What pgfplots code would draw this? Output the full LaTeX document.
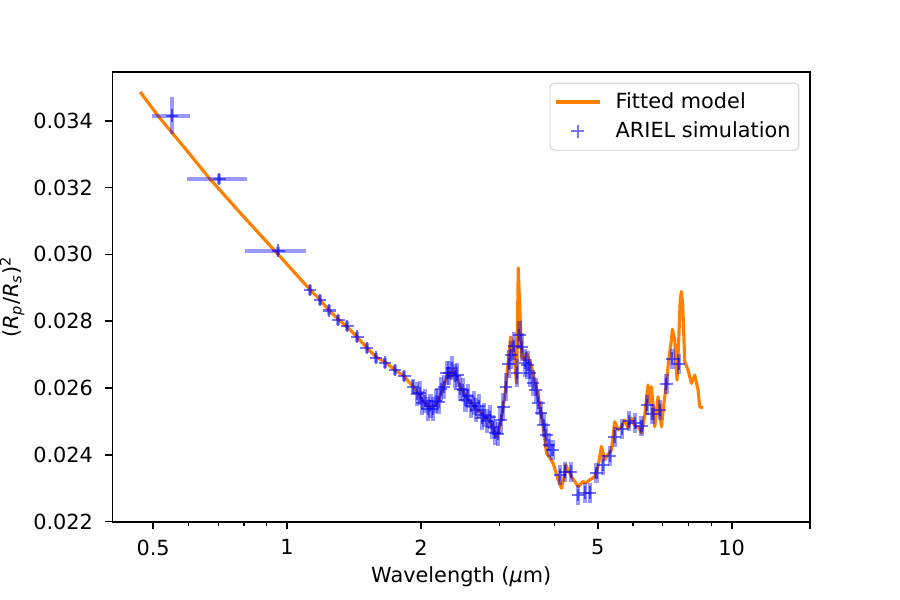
\documentclass[border=0pt]{standalone}
\usepackage{fontspec}
\setmainfont{DejaVu Sans}
\usepackage{pgfplots}
\pgfplotsset{compat=1.18}
\usepackage{pgfplotstable}
\definecolor{modelorange}{RGB}{255,127,0}

\pgfplotstableread{
x y
0.4674 0.03486
0.5138 0.03413
0.5899 0.03317
0.6714 0.03225
0.7923 0.03118
0.9398 0.03010
1.026 0.02954
1.1265 0.02894
1.1862 0.02864
1.2428 0.02832
1.302 0.02807
1.3641 0.02783
1.4365 0.02753
1.5127 0.02720
1.5849 0.02693
1.6607 0.02678
1.7489 0.02654
1.8325 0.02636
1.8708 0.02621
1.9193 0.02606
1.9596 0.02588
2.0006 0.02570
2.0425 0.02555
2.0853 0.02543
2.129 0.02543
2.1736 0.02555
2.2191 0.02582
2.2656 0.02618
2.3121 0.02648
2.336 0.02630
2.3605 0.02657
2.4099 0.02633
2.4604 0.02600
2.5119 0.02582
2.5645 0.02561
2.6182 0.02552
2.673 0.02534
2.729 0.02528
2.7861 0.02513
2.8445 0.02504
2.904 0.02481
2.9603 0.02454
2.9957 0.02475
3.0424 0.02516
3.0902 0.02579
3.1385 0.02669
3.183 0.02753
3.2214 0.02729
3.2836 0.02615
3.2973 0.02774
3.311 0.02959
3.3317 0.02864
3.3696 0.02694
3.4101 0.02684
3.4578 0.02704
3.5172 0.02678
3.5722 0.02648
3.6278 0.02609
3.6847 0.02564
3.7411 0.02511
3.78 0.02469
3.8334 0.02405
3.8994 0.02391
3.9665 0.02375
4.0228 0.02349
4.071 0.02325
4.143 0.02300
4.193 0.02331
4.2365 0.02370
4.2807 0.02355
4.3251 0.02345
4.3813 0.02331
4.4383 0.02320
4.515 0.02305
4.5781 0.02313
4.6325 0.02320
4.6975 0.02316
4.7959 0.02325
4.8708 0.02331
4.9216 0.02335
5.0052 0.02365
5.0941 0.02425
5.1819 0.02385
5.2627 0.02400
5.3653 0.02415
5.4573 0.02499
5.5513 0.02475
5.6494 0.02484
5.7479 0.02504
5.8479 0.02480
5.9512 0.02510
6.0229 0.02493
6.1068 0.02484
6.1802 0.02481
6.2676 0.02465
6.3753 0.02519
6.4853 0.02609
6.5424 0.02555
6.6014 0.02604
6.7143 0.02484
6.8299 0.02574
6.9502 0.02484
7.034 0.02549
7.1335 0.02614
7.2178 0.02684
7.3197 0.02744
7.3571 0.02776
7.4456 0.02744
7.5352 0.02624
7.6014 0.02744
7.6611 0.02864
7.709 0.02889
7.7607 0.02849
7.8416 0.02679
7.9765 0.02654
8.1177 0.02614
8.2589 0.02639
8.401 0.02594
8.4747 0.02544
8.6205 0.02540
}\model

\pgfplotstableread{
x y ex ey
0.5515 0.03415 0.054 0.00055
0.7045 0.03225 0.108 0.00015
0.956 0.03011 0.150 0.00012
}\tabA

\pgfplotstableread{
x y ey
1.1265 0.02894 0.00015
1.1862 0.02864 0.00015
1.2447 0.02832 0.00015
1.3041 0.02804 0.00015
1.3663 0.02786 0.00015
1.4388 0.02754 0.00015
1.5103 0.02719 0.00015
1.5849 0.02691 0.00015
1.6607 0.02676 0.00015
1.7489 0.02654 0.00015
1.8354 0.02636 0.00015
1.9200 0.02604 0.00022
1.9594 0.025823 0.00036
1.9870 0.025838 0.00036
2.0149 0.025554 0.00036
2.0433 0.025614 0.00036
2.0720 0.025374 0.00036
2.1012 0.025464 0.00036
2.1307 0.025374 0.00036
2.1607 0.025614 0.00036
2.1911 0.025584 0.00036
2.2219 0.025973 0.00036
2.2532 0.026033 0.00036
2.2849 0.026452 0.00036
2.3170 0.026452 0.00036
2.3496 0.026602 0.00036
2.3827 0.026362 0.00036
2.4162 0.026392 0.00036
2.4502 0.025973 0.00036
2.4847 0.025943 0.00036
2.5196 0.025644 0.00036
2.5551 0.025763 0.00036
2.5910 0.025464 0.00036
2.6275 0.025554 0.00036
2.6644 0.025344 0.00036
2.7019 0.025464 0.00036
2.7399 0.025105 0.00036
2.7785 0.025195 0.00036
2.8176 0.025015 0.00036
2.8572 0.025135 0.00036
2.8974 0.024835 0.00036
2.9382 0.024656 0.00036
2.9795 0.024626 0.00036
3.0214 0.025045 0.00042
3.0639 0.025434 0.00042
3.1070 0.026033 0.00042
3.1508 0.026722 0.00042
3.1951 0.026991 0.00042
3.2401 0.027261 0.00042
3.2856 0.026452 0.00042
3.3319 0.027590 0.00042
3.3787 0.027230 0.00042
3.4263 0.026751 0.00042
3.4745 0.026692 0.00042
3.5234 0.026452 0.00042
3.5730 0.026153 0.00040
3.6232 0.025943 0.00036
3.6742 0.025554 0.00036
3.7259 0.025254 0.00036
3.7783 0.024895 0.00036
3.8315 0.024596 0.00036
3.8854 0.024300 0.00036
3.955 0.02415 0.0003
4.107 0.023398 0.0003
4.214 0.023497 0.0003
4.347 0.023497 0.0003
4.515 0.022800 0.0003
4.674 0.022868 0.0003
4.796 0.022868 0.0003
4.966 0.023449 0.0003
5.137 0.023698 0.0003
5.318 0.023967 0.0003
5.457 0.024545 0.0003
5.673 0.024775 0.0003
5.869 0.025015 0.0003
6.053 0.024946 0.0003
6.268 0.024865 0.0003
6.452 0.025494 0.0003
6.635 0.025224 0.0003
6.907 0.025344 0.0003
7.1335 0.026123 0.0003
7.357 0.026880 0.0003
7.614 0.026722 0.0003
}\tabB

\begin{document}
\begin{tikzpicture}
\useasboundingbox (-54pt,-37.44pt) rectangle (378pt,250.56pt);
\begin{axis}[
  at={(0pt,0pt)}, anchor=south west,
  scale only axis, width=334.8pt, height=216pt,
  xmode=log, xmin=0.405, xmax=15, ymin=0.02199, ymax=0.035458,
  xtick={0.5,1,2,5,10}, xticklabels={0.5,1,2,5,10},
  minor xtick={0.6,0.7,0.8,0.9,3,4,6,7,8,9},
  extra x ticks={15}, extra x tick labels={},
  ytick={0.022,0.024,0.026,0.028,0.030,0.032,0.034},
  scaled y ticks=false,
  yticklabel style={xshift=-2.4pt, /pgf/number format/.cd, fixed, fixed zerofill, precision=3, assume math mode=true},
  xticklabel style={yshift=-1.5pt},
  tick align=outside, tick pos=left,
  major tick length=3.5pt, minor tick length=2pt,
  major tick style={line width=0.8pt, black},
  minor tick style={line width=0.6pt, black},
  axis line style={line width=0.8pt},
  tick label style={font=\fontsize{10}{12}\selectfont},
  label style={font=\fontsize{10}{12}\selectfont},
  xlabel={Wavelength (\textit{μ}m)},
  xlabel style={at={(axis description cs:0.5,0)}, anchor=center, yshift=-26.4pt},
  ylabel={(\textit{R}\textsubscript{\textit{p}}/\textit{R}\textsubscript{\textit{s}})\textsuperscript{2}},
  ylabel shift=-2.6pt,
  legend image code/.code={\draw[mark repeat=2,mark phase=2,#1] plot coordinates {(0pt,0pt)(10.5pt,0pt)(21pt,0pt)};},
  legend style={at={(0.9847,0.9762)}, anchor=north east, draw=black!20, rounded corners=2pt,
    fill=white, inner xsep=2pt, inner ysep=2.5pt, row sep=1pt,
    font=\fontsize{10}{12}\selectfont, legend cell align=left,
    /tikz/every odd column/.style={column sep=5pt}},
]
\addplot[modelorange, line width=1.5pt, line join=round] table[x=x,y=y] {\model};
\addlegendentry{Fitted model}
\addplot[only marks, mark=+, mark size=3pt, mark options={blue, line width=1pt, opacity=0.55}, forget plot,
  error bars/.cd, x dir=both, x explicit, y dir=both, y explicit, error mark=none,
  error bar style={line width=2pt, blue, opacity=0.4}]
  table[x=x, y=y, x error=ex, y error=ey] {\tabA};
\addplot[only marks, mark=+, mark size=3pt, mark options={blue, line width=1pt, opacity=0.55}, forget plot,
  error bars/.cd, y dir=both, y explicit, error mark=none,
  error bar style={line width=2pt, blue, opacity=0.4}]
  table[x=x, y=y, y error=ey] {\tabB};
\addlegendimage{only marks, mark=+, mark size=3pt, mark options={blue, line width=1pt, opacity=0.55}}
\addlegendentry{ARIEL simulation}
\end{axis}
\end{tikzpicture}
\end{document}
